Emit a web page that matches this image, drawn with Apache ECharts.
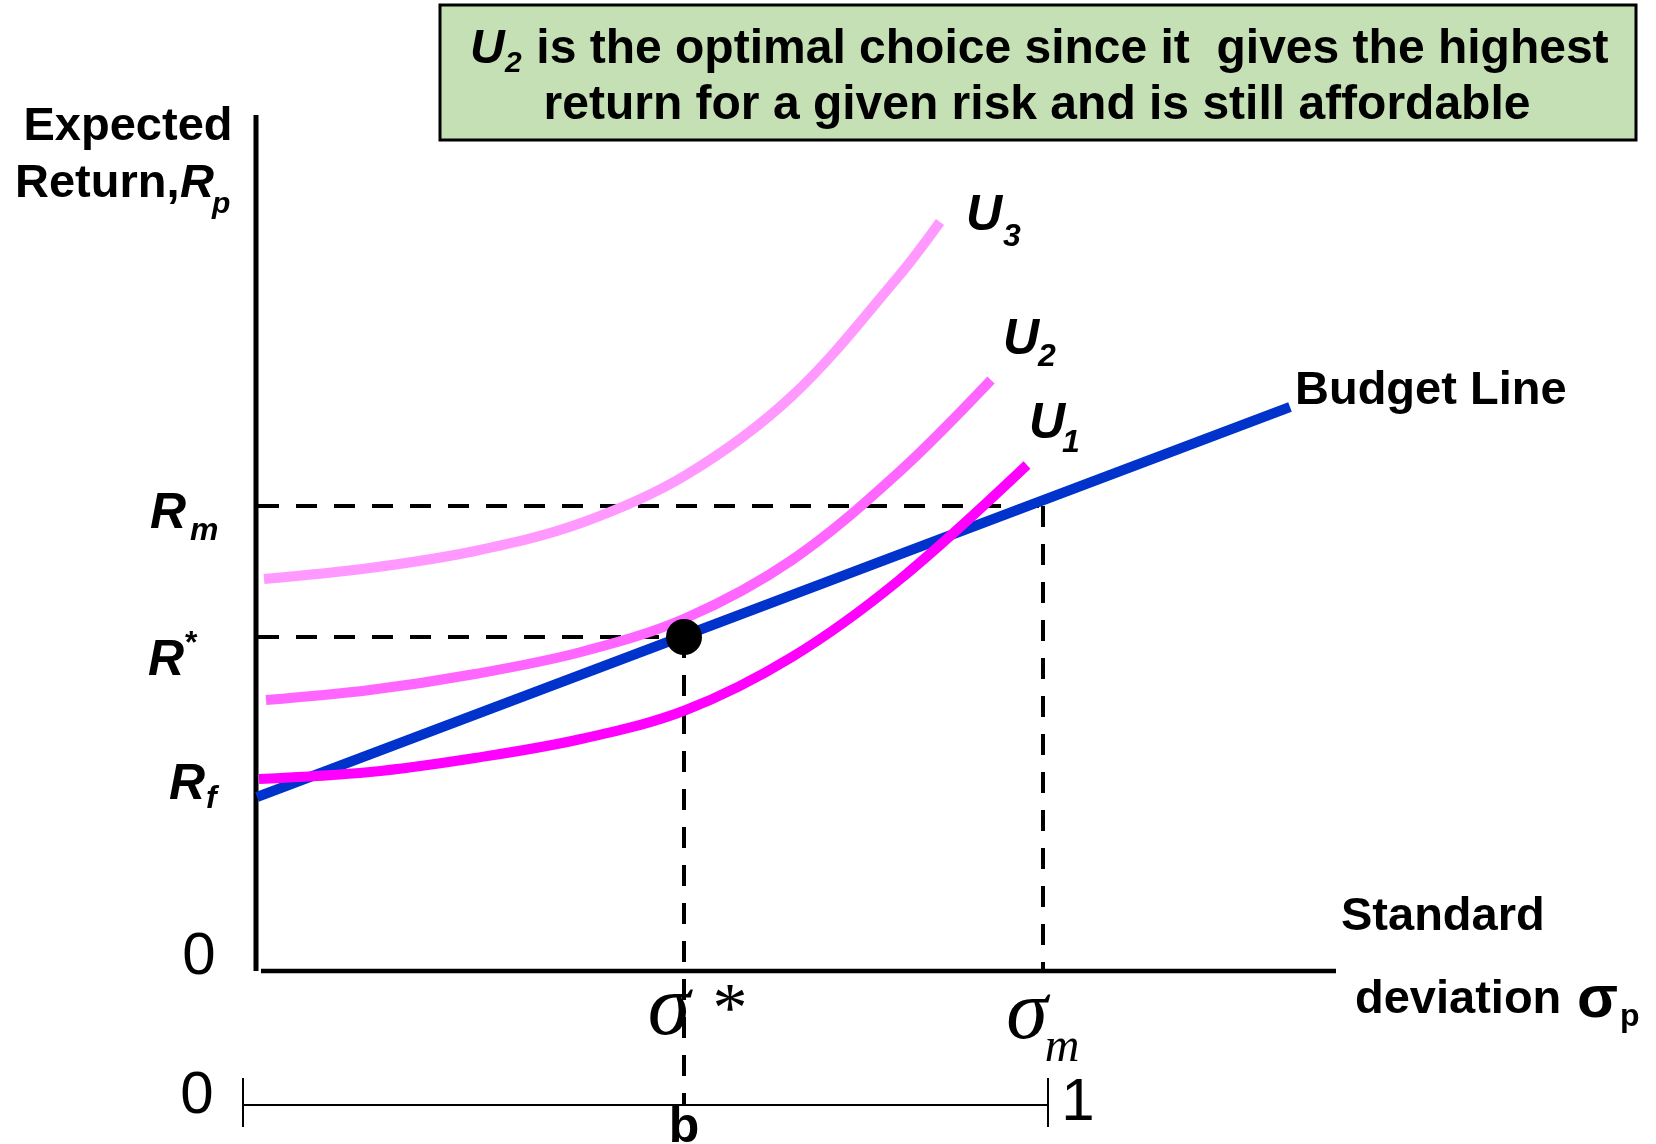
<!DOCTYPE html>
<html><head><meta charset="utf-8">
<script src="https://cdn.jsdelivr.net/npm/echarts@6/dist/echarts.min.js"></script>
<style>html,body{margin:0;padding:0;background:#fff}#c{width:1656px;height:1144px}</style>
</head><body><div id="c"></div>
<script>
// ---- values (x: standard deviation σ, y: expected return R) ----
const axisXEnd = 10.8;         // end of the σ axis
const axisYEnd = 8.56;         // top of the R axis
const sigmaStar = 4.28;
const sigmaM = 7.87;
const rF = 1.74;
const rStar = 3.34;
const rM = 4.65;
const budgetX = [0.01, 10.34];
const budgetY = [1.74, 5.64];
const u1X = [0.03, 1.14, 2.19, 3.25, 4.30, 5.36, 6.42, 7.71];
const u1Y = [1.92, 1.99, 2.13, 2.32, 2.61, 3.14, 3.90, 5.06];
const u2X = [0.10, 1.14, 2.19, 3.25, 4.30, 5.36, 6.42, 7.35];
const u2Y = [2.71, 2.81, 2.97, 3.19, 3.53, 4.11, 4.98, 5.91];
const u3X = [0.08, 1.14, 2.19, 3.25, 4.30, 5.36, 6.42, 6.84];
const u3Y = [3.92, 4.03, 4.20, 4.48, 4.96, 5.75, 6.94, 7.49];
const rulerY = -1.34;          // level of the lower 0..1 scale
const rulerEnds = [-0.13, 7.92];
const rulerTickSpan = [-1.07, -1.56];
const rulerLabels = ['0', '1'];
const pointB = 'b';

const zip = (xs, ys) => xs.map((x, i) => [x, ys[i]]);

const dash = { color: '#000', width: 4, type: [21, 17] };
function lineSeries(data, color, width, extra) {
  return Object.assign({
    type: 'line', data, showSymbol: false, symbol: 'none', silent: true,
    lineStyle: { color, width, cap: 'butt' }, animation: false, clip: false
  }, extra || {});
}

const option = {
  animation: false,
  backgroundColor: '#fff',
  grid: { left: 0, top: 0, width: 1656, height: 1144 },
  xAxis: { type: 'value', min: -2.56, max: 14.0, show: false },
  yAxis: { type: 'value', min: -1.73, max: 9.71, show: false },
  series: [
    // axes
    lineSeries([[0, 0], [0, axisYEnd]], '#000', 5),
    lineSeries([[0.05, 0], [axisXEnd, 0]], '#000', 4.5),
    // dashed guide lines
    lineSeries([[0.02, rM], [sigmaM, rM]], '#000', 4, { lineStyle: dash }),
    lineSeries([[sigmaM, rM], [sigmaM, 0]], '#000', 4, { lineStyle: dash }),
    lineSeries([[0.02, rStar], [sigmaStar, rStar]], '#000', 4, { lineStyle: dash }),
    lineSeries([[sigmaStar, rStar], [sigmaStar, rulerY]], '#000', 4, { lineStyle: dash }),
    // budget line
    lineSeries(zip(budgetX, budgetY), '#0033CC', 10),
    // indifference curves
    lineSeries(zip(u3X, u3Y), '#FF99FF', 10, { smooth: 0.35 }),
    lineSeries(zip(u2X, u2Y), '#FF66FF', 10, { smooth: 0.35 }),
    lineSeries(zip(u1X, u1Y), '#FF00FF', 10, { smooth: 0.35 }),
    // lower 0..1 scale
    lineSeries([[rulerEnds[0], rulerY], [rulerEnds[1], rulerY]], '#000', 2),
    lineSeries([[rulerEnds[0], rulerTickSpan[0]], [rulerEnds[0], rulerTickSpan[1]]], '#000', 2),
    lineSeries([[rulerEnds[1], rulerTickSpan[0]], [rulerEnds[1], rulerTickSpan[1]]], '#000', 2),
    // optimal point
    {
      type: 'scatter', data: [[sigmaStar, rStar]], symbol: 'circle', symbolSize: 36,
      itemStyle: { color: '#000', opacity: 1 }, silent: true, z: 10, animation: false
    }
  ]
};

const chart = echarts.init(document.getElementById('c'), null, { renderer: 'canvas' });
chart.setOption(option);

const P = (x, y) => chart.convertToPixel({ gridIndex: 0 }, [x, y]);
const SANS = '"Liberation Sans", Arial, sans-serif';
const SERIF = '"Liberation Serif", "Times New Roman", serif';
function T(x, y, text, font, align) {
  return { type: 'text', x, y, z: 100, silent: true,
    style: { text, font, fill: '#000', align: align || 'left', verticalAlign: 'middle' } };
}
const B = s => 'bold ' + s + 'px ' + SANS;
const BI = s => 'italic bold ' + s + 'px ' + SANS;
const R = s => s + 'px ' + SANS;
const SI = s => 'italic ' + s + 'px ' + SERIF;
const S = s => s + 'px ' + SERIF;

const pRm = P(0, rM), pRs = P(0, rStar), pRf = P(0, rF), p0 = P(0, 0);
const pSs = P(sigmaStar, 0), pSm = P(sigmaM, 0);
const pRL = P(rulerEnds[0], rulerY), pRR = P(rulerEnds[1], rulerY);
const e3 = P(u3X[u3X.length - 1], u3Y[u3Y.length - 1]);
const e2 = P(u2X[u2X.length - 1], u2Y[u2Y.length - 1]);
const e1 = P(u1X[u1X.length - 1], u1Y[u1Y.length - 1]);
const eB = P(budgetX[1], budgetY[1]);

const graphics = [
  { type: 'rect', z: 90, silent: true, shape: { x: 440, y: 5, width: 1196, height: 135 },
    style: { fill: '#C5E0B4', stroke: '#000', lineWidth: 3 } },
  T(470, 50, 'U', BI(48)),
  T(505, 64, '2', BI(30)),
  T(523, 50, ' is the optimal choice since it  gives the highest', B(48)),
  T(1037, 106, 'return for a given risk and is still affordable', B(48), 'center'),

  T(128, 127, 'Expected', B(47), 'center'),
  T(15, 184, 'Return,', B(47)),
  T(180, 184, 'R', BI(47)),
  T(212, 205, 'p', BI(30)),

  T(pRm[0] - 106, pRm[1] + 8, 'R', BI(50)),
  T(pRm[0] - 66, pRm[1] + 25, 'm', BI(32)),
  T(pRs[0] - 108, pRs[1] + 24, 'R', BI(50)),
  T(pRs[0] - 71, pRs[1] + 7, '*', B(32)),
  T(pRf[0] - 87, pRf[1] - 12, 'R', BI(50)),
  T(pRf[0] - 50, pRf[1] + 2, 'f', BI(32)),

  T(p0[0] - 57, p0[1] - 14, '0', R(60), 'center'),
  T(pRL[0] - 46, pRL[1] - 9, rulerLabels[0], R(60), 'center'),
  T(pRR[0] + 30, pRR[1] - 2, rulerLabels[1], R(60), 'center'),
  T(pSs[0], 1128, pointB, B(50), 'center'),

  T(pSs[0] - 15, pSs[1] + 40, 'σ', SI(86), 'center'),
  T(pSs[0] + 46, pSs[1] + 42, '*', S(70), 'center'),
  T(pSm[0] - 16, pSm[1] + 45, 'σ', SI(84), 'center'),
  T(pSm[0] + 19, pSm[1] + 77, 'm', SI(48), 'center'),

  T(e3[0] + 26, e3[1] - 6, 'U', BI(50)),
  T(e3[0] + 63, e3[1] + 15, '3', BI(32)),
  T(e2[0] + 12, e2[1] - 40, 'U', BI(50)),
  T(e2[0] + 47, e2[1] - 23, '2', BI(32)),
  T(e1[0] + 2, e1[1] - 41, 'U', BI(50)),
  T(e1[0] + 35, e1[1] - 22, '1', BI(32)),

  T(eB[0] + 5, eB[1] - 16, 'Budget Line', B(47)),
  T(1341, 917, 'Standard', B(47)),
  T(1355, 1000, 'deviation', B(47)),
  T(1577, 1000, 'σ', B(60)),
  T(1620, 1017, 'p', B(32))
];
chart.setOption({ graphic: graphics });
</script>
</body></html>
